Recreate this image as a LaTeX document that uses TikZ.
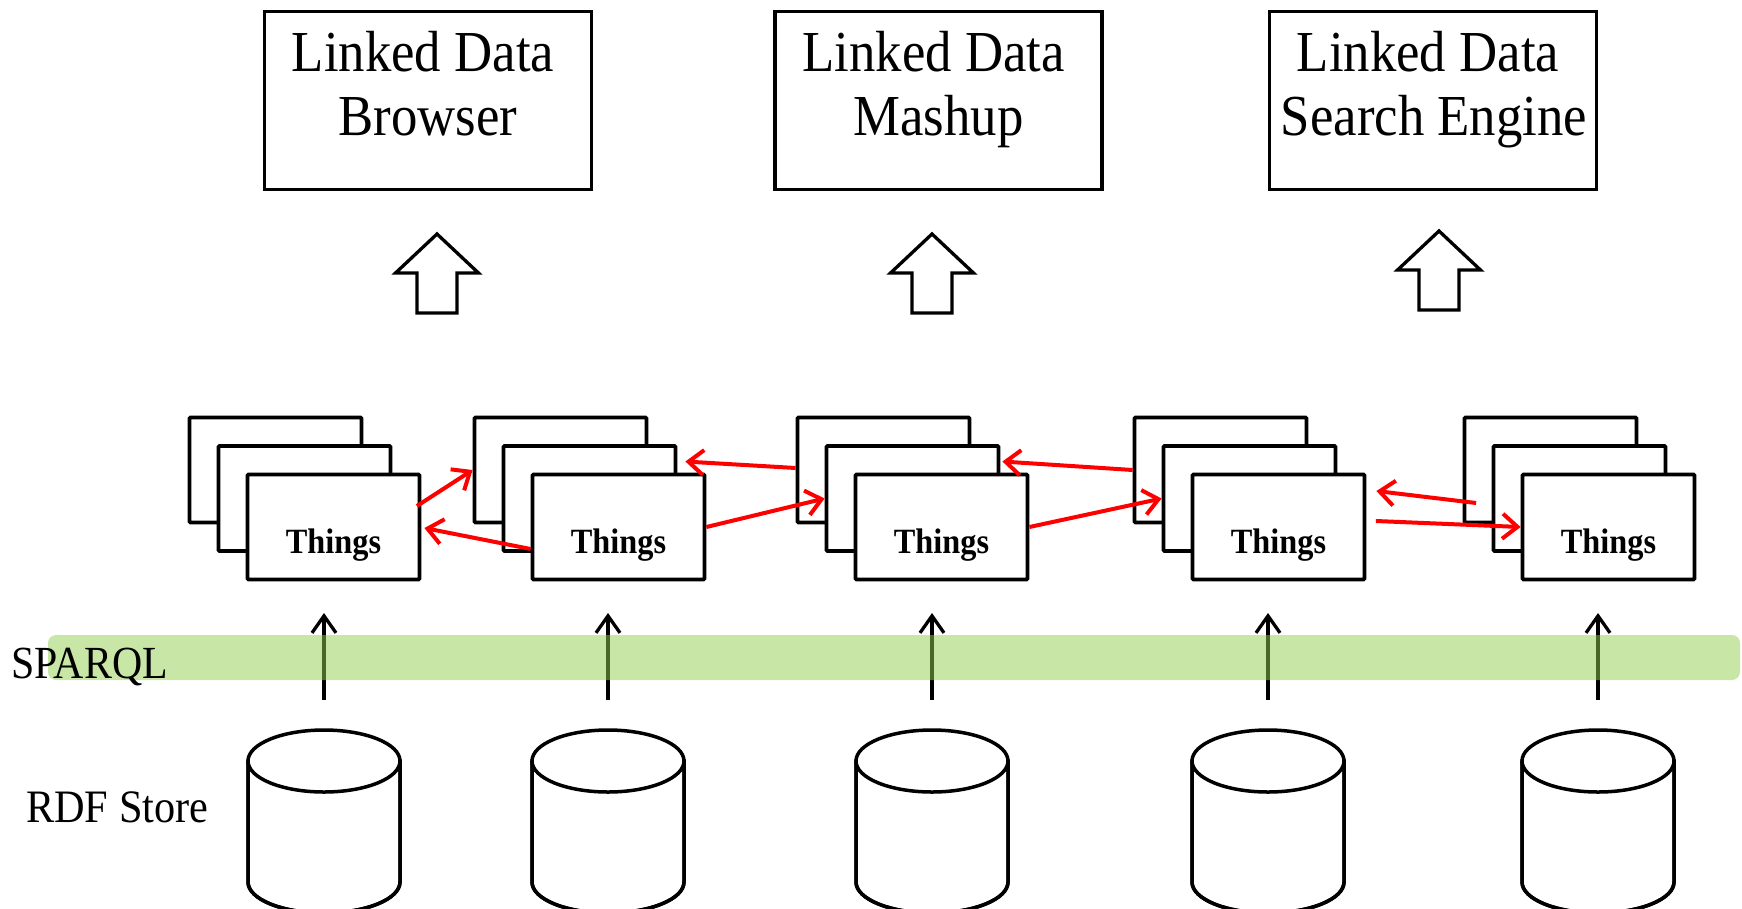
\documentclass[tikz,border=0pt]{standalone}
\usepackage{fontspec}
\setmainfont{Liberation Serif}[FakeStretch=0.91]
\usetikzlibrary{arrows.meta}
\definecolor{bandgreen}{RGB}{146,208,80}
\definecolor{linkred}{RGB}{255,0,0}
\begin{document}
\begin{tikzpicture}[x=1pt,y=-1pt,
  topbox/.style={draw, line width=3.4pt, minimum width=327pt, minimum height=178pt, inner sep=0pt},
  toptext/.style={font=\fontsize{58}{67}\selectfont, anchor=base, inner sep=0pt},
  card/.style={draw, fill=white, line width=3.8pt, minimum width=172pt, minimum height=105pt, inner sep=0pt, rounded corners=1pt},
  thingtext/.style={font=\fontsize{35.5}{40}\selectfont\bfseries, anchor=base, inner sep=0pt},
  link/.style={draw=linkred, line width=4pt, -{Straight Barb[length=15pt,width=25pt]}},
  query/.style={draw=black, line width=3.3pt, -{Straight Barb[length=17pt,width=24pt]}},
  hollow/.style={draw, line width=3.3pt, fill=white, line join=miter},
  db/.style={draw, line width=3.5pt, fill=white},
  sidetext/.style={font=\fontsize{46.5}{50}\selectfont, anchor=base west, inner sep=0pt}
]
\useasboundingbox (0,0) rectangle (1742,908);

% top application boxes
\node[topbox] (browser) at (428,100.5) {};
\node[toptext] (browser1) at (423,71) {Linked Data};
\node[toptext] (browser2) at (428,135) {Browser};
\node[topbox] (mashup) at (938.5,100.5) {};
\node[toptext] (mashup1) at (933.5,71) {Linked Data};
\node[toptext] (mashup2) at (938.5,135) {Mashup};
\node[topbox] (search) at (1433,100.5) {};
\node[toptext] (search1) at (1428,71) {Linked Data};
\node[toptext] (search2) at (1434,135) {Search Engine};

% hollow up arrows
\foreach \x/\t in {437/234, 932/234, 1439/231}{
  \draw[hollow] (\x,\t) -- (\x+41.5,\t+39) -- (\x+20,\t+39) -- (\x+20,\t+79)
    -- (\x-20,\t+79) -- (\x-20,\t+39) -- (\x-41.5,\t+39) -- cycle;
}

% stacks of things
\foreach \i/\x in {1/188, 2/473, 3/796, 4/1133, 5/1463}{
  \node[card] (s\i a) at (\x+87.5,470) {};
  \node[card] (s\i b) at (\x+116.5,498.5) {};
  \node[card] (s\i c) at (\x+145.5,527) {};
  \node[thingtext] (t\i) at (\x+145.5,553) {Things};
}

% links between things
\draw[link] ([shift={(-4.5,-21)}]s1c.east) -- (s2a.west);
\draw[link] ([shift={(0,22)}]s2c.west) -- ([shift={(3,1)}]s1c.east);
\draw[link] ([shift={(0,-2)}]s3a.west) -- ([shift={(8,-37)}]s2b.east);
\draw[link] (s2c.east) -- (s3b.west);
\draw[link] (s4a.west) -- ([shift={(2,-37)}]s3b.east);
\draw[link] (s3c.east) -- (s4b.west);
\draw[link] ([shift={(13.5,33)}]s5a.west) -- ([shift={(10,-36)}]s4c.east);
\draw[link] ([shift={(9.5,-6)}]s4c.east) -- (s5c.west);

% RDF stores and SPARQL arrows
\foreach \i/\x in {1/324, 2/608, 3/932, 4/1268, 5/1598}{
  \path[db] (\x-76,761) -- (\x-76,882) arc[start angle=180, end angle=0, x radius=76, y radius=31] -- (\x+76,761) -- cycle;
  \draw[line width=3.5pt] (\x-76,761) -- (\x-76,882) arc[start angle=180, end angle=0, x radius=76, y radius=31] -- (\x+76,761);
  \draw[db] (\x,761) ellipse [x radius=76, y radius=31];
  \coordinate (qa\i) at (\x,700);
  \coordinate (qb\i) at (\x,613);
  \draw[query] (qa\i) -- (qb\i);
}

% SPARQL band
\fill[bandgreen, opacity=0.5, rounded corners=8pt] (48,635) rectangle (1740,680);

\node[sidetext, font=\fontsize{46}{50}\selectfont] (sparql) at (11,678) {SPARQL};
\node[sidetext] (rdf) at (26,822) {RDF Store};
\end{tikzpicture}
\end{document}
